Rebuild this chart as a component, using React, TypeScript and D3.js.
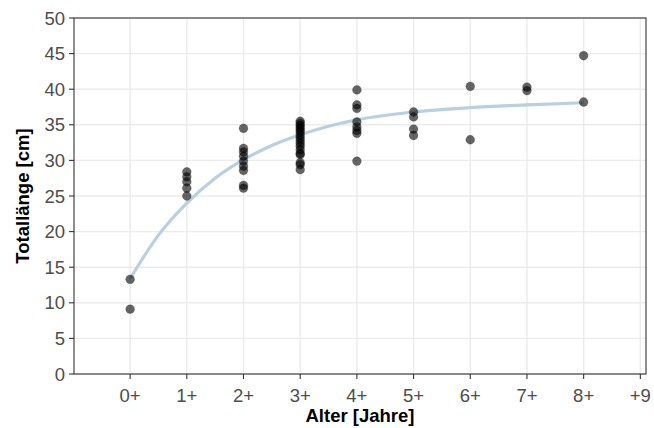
import React from "react";
import * as d3 from "d3";

const ageTicks = [0, 1, 2, 3, 4, 5, 6, 7, 8, 9];
const ageLabels = ["0+", "1+", "2+", "3+", "4+", "5+", "6+", "7+", "8+", "+9"];
const lengthTicks = [0, 5, 10, 15, 20, 25, 30, 35, 40, 45, 50];

const age0 = [13.3, 9.1];
const age1 = [28.4, 27.7, 27.0, 26.1, 25.0];
const age2 = [34.5, 31.7, 31.2, 30.6, 29.9, 29.2, 28.6, 26.5, 26.1];
const age3 = [35.5, 35.2, 34.9, 34.6, 34.3, 34.0, 33.6, 33.2, 32.8, 32.4, 32.0, 31.5, 31.0, 30.8, 29.7, 29.4, 28.7];
const age4 = [39.9, 37.8, 37.3, 35.4, 34.7, 34.2, 33.8, 29.9];
const age5 = [36.8, 36.1, 34.4, 33.5];
const age6 = [40.4, 32.9];
const age7 = [40.3, 39.8];
const age8 = [44.7, 38.2];
const groups = [age0, age1, age2, age3, age4, age5, age6, age7, age8];

const curveAge = [0, 0.5, 1, 1.5, 2, 2.5, 3, 3.5, 4, 5, 6, 7, 8];
const curveLen = [13.4, 19.5, 24.0, 27.5, 30.1, 32.1, 33.6, 34.8, 35.7, 36.8, 37.4, 37.8, 38.1];

export default function App() {
  const W = 654, H = 428;
  const left = 74, right = 646, top = 18, bottom = 374;
  const x = d3.scaleLinear().domain([-0.99, 9.1]).range([left, right]);
  const y = d3.scaleLinear().domain([0, 50]).range([bottom, top]);
  const line = d3
    .line<number>()
    .x((_, i) => x(curveAge[i]))
    .y((d) => y(d))
    .curve(d3.curveMonotoneX);
  const pts: { a: number; v: number }[] = [];
  groups.forEach((g, a) => g.forEach((v) => pts.push({ a, v })));
  const font = "'Liberation Sans', Arial, sans-serif";
  return (
    <svg width={W} height={H} style={{ position: "absolute", left: 0, top: 0 }}>
      <rect width={W} height={H} fill="#fff" />
      {lengthTicks.map((t) => (
        <line key={"gy" + t} x1={left} x2={right} y1={y(t)} y2={y(t)} stroke="#ebebeb" strokeWidth={1.4} />
      ))}
      {ageTicks.map((t) => (
        <line key={"gx" + t} x1={x(t)} x2={x(t)} y1={top} y2={bottom} stroke="#ebebeb" strokeWidth={1.4} />
      ))}
      <path d={line(curveLen) || ""} fill="none" stroke="#b9cfe2" strokeWidth={3.2} />
      {pts.map((p, i) => (
        <circle key={i} cx={x(p.a)} cy={y(p.v)} r={4.4} fill="#000" fillOpacity={0.6} stroke="#000" strokeOpacity={0.25} strokeWidth={0.8} />
      ))}
      <rect x={left} y={top} width={right - left} height={bottom - top} fill="none" stroke="#333" strokeWidth={1.1} />
      {lengthTicks.map((t) => (
        <g key={"ty" + t}>
          <line x1={left - 5} x2={left} y1={y(t)} y2={y(t)} stroke="#333" strokeWidth={1.1} />
          <text x={left - 9} y={y(t)} dy="0.36em" textAnchor="end" fontFamily={font} fontSize={18.5} fill="#4d4d4d">
            {t}
          </text>
        </g>
      ))}
      {ageTicks.map((t, i) => (
        <g key={"tx" + t}>
          <line x1={x(t)} x2={x(t)} y1={bottom} y2={bottom + 5} stroke="#333" strokeWidth={1.1} />
          <text x={x(t)} y={401.5} textAnchor="middle" fontFamily={font} fontSize={18.5} fill="#4d4d4d">
            {ageLabels[i]}
          </text>
        </g>
      ))}
      <text x={(left + right) / 2} y={422} textAnchor="middle" fontFamily={font} fontSize={18.5} fontWeight="bold" fill="#000">
        Alter [Jahre]
      </text>
      <text
        transform={`translate(29,${(top + bottom) / 2}) rotate(-90)`}
        textAnchor="middle"
        fontFamily={font}
        fontSize={18.5}
        fontWeight="bold"
        fill="#000"
      >
        Totallänge [cm]
      </text>
    </svg>
  );
}
